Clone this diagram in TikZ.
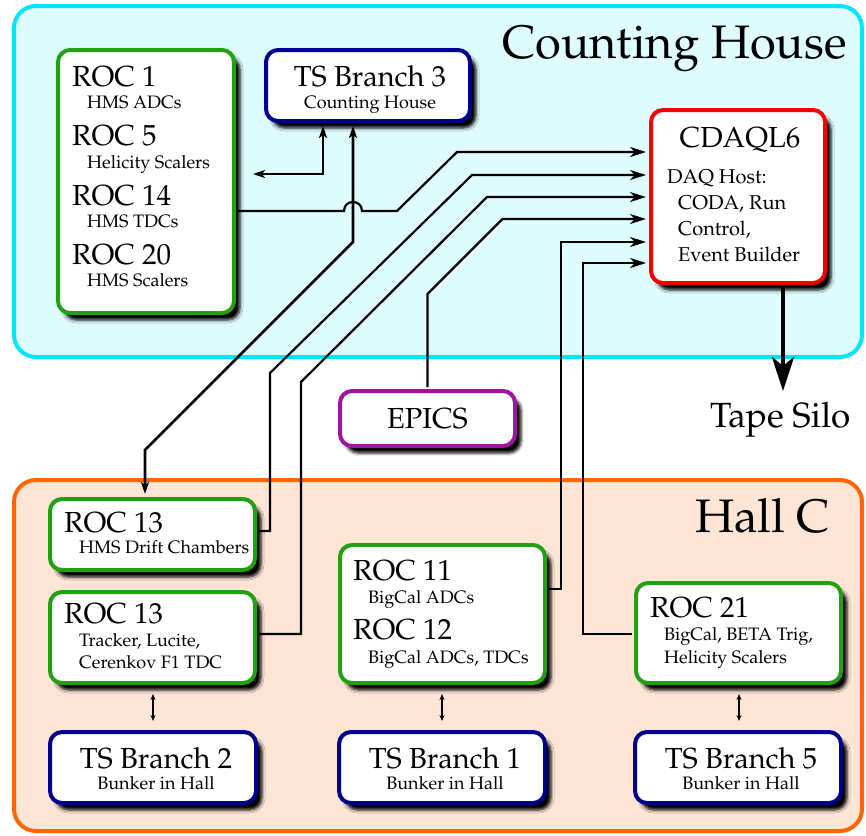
\documentclass[tikz,border=0pt]{standalone}
\usepackage[T1]{fontenc}
\usepackage{mathpazo}
\usetikzlibrary{arrows.meta,shadows.blur}
\definecolor{chfill}{RGB}{222,252,252}
\definecolor{chdraw}{RGB}{0,229,255}
\definecolor{hcfill}{RGB}{253,229,213}
\definecolor{hcdraw}{RGB}{255,102,0}
\definecolor{grn}{RGB}{34,160,20}
\definecolor{blu}{RGB}{0,0,140}
\definecolor{redd}{RGB}{245,0,0}
\definecolor{pur}{RGB}{160,20,160}
\begin{document}
\begin{tikzpicture}[x=1pt,y=-1pt,
  region/.style={draw, line width=4pt, rounded corners=22pt},
  dbox/.style={draw, line width=4pt, rounded corners=12pt, fill=white, inner sep=0pt,
    blur shadow={shadow xshift=6pt, shadow yshift=-7pt, shadow blur radius=3pt, shadow opacity=100}},
  gbox/.style={dbox, draw=grn},
  bbox/.style={dbox, draw=blu},
  big/.style={inner sep=0pt, font=\fontsize{29}{32}\selectfont},
  sub/.style={inner sep=0pt, font=\fontsize{18}{20}\selectfont},
  host/.style={inner sep=0pt, font=\fontsize{20}{22}\selectfont, anchor=base west},
  huge/.style={inner sep=0pt, font=\fontsize{47}{50}\selectfont, anchor=base west},
  conn/.style={line width=2.2pt, -{Stealth[length=16pt,width=10pt,inset=5pt]}, shorten >=3pt, shorten <=2pt},
  bidir/.style={line width=1.3pt, {Stealth[length=6pt,width=5pt]}-{Stealth[length=6pt,width=5pt]}, shorten >=9pt, shorten <=9pt}
]
\useasboundingbox (0,0) rectangle (866,835);
% regions
\node[region, draw=chdraw, fill=chfill, minimum width=848pt, minimum height=351pt] (ch) at (438,181.5) {};
\node[region, draw=hcdraw, fill=hcfill, minimum width=848pt, minimum height=351pt] (hc) at (438,655.5) {};
\node[huge] (chlbl) at (502,58) {Counting House};
\node[huge] (hclbl) at (695,532) {Hall C};

% boxes
\node[gbox, minimum width=176pt, minimum height=263pt] (roc1) at (146,181.5) {};
\node[big, anchor=base west] (t1) at (72,86) {ROC 1};
\node[sub, anchor=base west] (t1s) at (87,108) {HMS ADCs};
\node[big, anchor=base west] (t5) at (72,145) {ROC 5};
\node[sub, anchor=base west] (t5s) at (87,168) {Helicity Scalers};
\node[big, anchor=base west] (t14) at (72,205) {ROC 14};
\node[sub, anchor=base west] (t14s) at (87,227) {HMS TDCs};
\node[big, anchor=base west] (t20) at (72,264) {ROC 20};
\node[sub, anchor=base west] (t20s) at (87,286) {HMS Scalers};

\node[bbox, minimum width=204pt, minimum height=71pt] (ts3) at (368,85.5) {};
\node[big, anchor=base] (ts3a) at (370,86) {TS Branch 3};
\node[sub, anchor=base] (ts3b) at (370,108) {Counting House};

\node[dbox, draw=redd, minimum width=174pt, minimum height=173pt] (cdaq) at (738,196.5) {};
\node[big, anchor=base] (cd1) at (740,147) {CDAQL6};
\node[host] (cd2) at (667,183) {DAQ Host:};
\node[host] (cd3) at (678,209) {CODA, Run};
\node[host] (cd4) at (678,235) {Control,};
\node[host] (cd5) at (678,261) {Event Builder};

\node[dbox, draw=pur, minimum width=175pt, minimum height=55pt] (epics) at (427.5,418.5) {};
\node[big, anchor=base] (ep) at (427.5,428) {EPICS};

\node[inner sep=0pt, font=\fontsize{35}{37}\selectfont, anchor=base west] (tape) at (710,427) {Tape Silo};
\coordinate (silotip) at (783,391);

\node[gbox, minimum width=205pt, minimum height=71pt] (roc13a) at (152.5,534.5) {};
\node[big, anchor=base west] (r13a) at (64,532) {ROC 13};
\node[sub, anchor=base west] (r13as) at (79,553) {HMS Drift Chambers};

\node[gbox, minimum width=205pt, minimum height=91pt] (roc13b) at (152.5,637.5) {};
\node[big, anchor=base west] (r13b) at (64,623) {ROC 13};
\node[sub, anchor=base west] (r13bs) at (79,646) {Tracker, Lucite,};
\node[sub, anchor=base west] (r13bt) at (79,668) {Cerenkov F1 TDC};

\node[gbox, minimum width=205pt, minimum height=138pt] (roc11) at (442.5,614) {};
\node[big, anchor=base west] (r11) at (353,580) {ROC 11};
\node[sub, anchor=base west] (r11s) at (368,603) {BigCal ADCs};
\node[big, anchor=base west] (r12) at (353,639) {ROC 12};
\node[sub, anchor=base west] (r12s) at (368,663) {BigCal ADCs, TDCs};

\node[gbox, minimum width=205pt, minimum height=100pt] (roc21) at (738.5,633) {};
\node[big, anchor=base west] (r21) at (650,617) {ROC 21};
\node[sub, anchor=base west] (r21s) at (664,640) {BigCal, BETA Trig,};
\node[sub, anchor=base west] (r21t) at (664,663) {Helicity Scalers};

\node[bbox, minimum width=206pt, minimum height=71pt] (ts2) at (153,767.5) {};
\node[big, anchor=base] (ts2a) at (156,768) {TS Branch 2};
\node[sub, anchor=base] (ts2b) at (156,789) {Bunker in Hall};
\node[bbox, minimum width=206pt, minimum height=71pt] (ts1) at (442,767.5) {};
\node[big, anchor=base] (ts1a) at (445,768) {TS Branch 1};
\node[sub, anchor=base] (ts1b) at (445,789) {Bunker in Hall};
\node[bbox, minimum width=206pt, minimum height=71pt] (ts5) at (738,767.5) {};
\node[big, anchor=base] (ts5a) at (741,768) {TS Branch 5};
\node[sub, anchor=base] (ts5b) at (741,789) {Bunker in Hall};

% connectors to CDAQL6
\draw[conn] (roc1.east |- 0,211) -- (344,211) .. controls (344,199) and (362,199) .. (362,211) -- (397,211) -- (457,152) -- (cdaq.west |- 0,152);
\draw[conn] (roc13a.east |- 0,531) -- (270,531) -- (270,373) -- (472,175) -- (cdaq.west |- 0,175);
\draw[conn] (roc13b.east |- 0,634) -- (301,634) -- (301,382) -- (487,197) -- (cdaq.west |- 0,197);
\draw[conn] (epics.north) -- (427.5,294) -- (502.5,219) -- (cdaq.west |- 0,219);
\draw[conn] (roc11.east |- 0,589) -- (561,589) -- (561,242) -- (cdaq.west |- 0,242);
\draw[conn] (roc21.west |- 0,634) -- (583,634) -- (583,263) -- (cdaq.west |- 0,263);

% TS Branch 3 links
\coordinate (ts3l) at (253,174);
\draw[line width=2.4pt, {Stealth[length=12pt,width=8pt,inset=3pt]}-{Stealth[length=12pt,width=8pt,inset=3pt]}, shorten >=3pt] (ts3l) -- (323,174) -- (ts3.south -| 323,0);
\draw[line width=2.6pt, {Stealth[length=12pt,width=8pt,inset=3pt]}-{Stealth[length=12pt,width=8pt,inset=3pt]}, shorten >=3pt, shorten <=3pt] (ts3.south -| 353,0) -- (353,242) -- (145,450) -- (roc13a.north -| 145,0);

% tape silo
\draw[line width=4.5pt, -{Stealth[length=34pt,width=22pt,inset=9pt]}, shorten <=2pt] (cdaq.south -| silotip) -- (silotip);

% ROC <-> TS branches
\draw[bidir] (roc13b.south -| 153,0) -- (ts2.north -| 153,0);
\draw[bidir] (roc11.south -| 442,0) -- (ts1.north -| 442,0);
\draw[bidir] (roc21.south -| 739,0) -- (ts5.north -| 739,0);
\end{tikzpicture}
\end{document}
